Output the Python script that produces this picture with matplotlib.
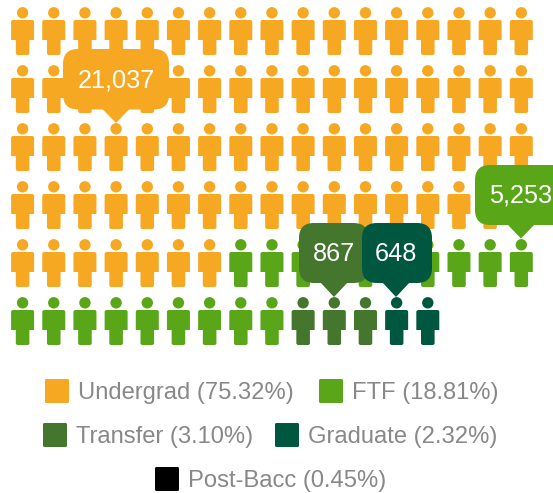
#!/usr/bin/env python3

import matplotlib
matplotlib.use('Agg')
import matplotlib.pyplot as plt
from matplotlib.patches import Circle, PathPatch, FancyBboxPatch
from matplotlib.path import Path

plt.rcParams['font.family'] = ['Liberation Sans', 'DejaVu Sans']

CATEGORIES = ['Undergrad', 'FTF', 'Transfer', 'Graduate', 'Post-Bacc']
PERCENTS = ['75.32', '18.81', '3.10', '2.32', '0.45']
ICON_COUNTS = [75, 19, 3, 2, 0]
COLORS = ['#F7A823', '#59A618', '#44762E', '#00573F', '#000000']
LABELS = ['21,037', '5,253', '867', '648']

N_COLS = 17
COL_START, COL_STEP = 22.6, 31.17
ROW_START, ROW_STEP = 12.8, 58.0

# (left, right, top, bottom, tip x, tip y) for the callouts
BUBBLES = [
    (63, 169, 49, 109.5, 116, 123),
    (475, 590, 165, 225, 521, 238.5),
    (299, 368.5, 223, 283, 334, 297),
    (362, 432, 223, 283, 396, 297),
]

# (square x, square y, text x) per legend entry
LEGEND_POS = [(45, 379, 78), (319, 379, 352), (43, 423, 76), (275, 423, 308), (155, 467, 188)]


def person_path(cx, cy):
    # cy is the centre of the head, the body hangs below it
    top = cy + 7.2
    r = 2.0
    verts = [
        (cx - 9.5, top), (cx + 9.5, top),
        (cx + 11.5, top), (cx + 11.5, top + r),
        (cx + 11.5, top + 20), (cx + 6.8, top + 20),
        (cx + 6.8, top + 33), (cx + 6.8, top + 35), (cx + 4.8, top + 35),
        (cx - 4.8, top + 35),
        (cx - 6.8, top + 35), (cx - 6.8, top + 33),
        (cx - 6.8, top + 20), (cx - 11.5, top + 20),
        (cx - 11.5, top + r), (cx - 11.5, top), (cx - 9.5, top),
        (cx - 9.5, top),
    ]
    L, C = Path.LINETO, Path.CURVE3
    codes = [Path.MOVETO, L, C, C, L, L, L, C, C, L, C, C, L, L, L, C, C, Path.CLOSEPOLY]
    return Path(verts, codes)


def draw_person(ax, col, row, color):
    cx = COL_START + col * COL_STEP
    cy = ROW_START + row * ROW_STEP
    ax.add_patch(Circle((cx, cy), 5.7, fc=color, ec='none'))
    ax.add_patch(PathPatch(person_path(cx, cy), fc=color, ec='none'))


def draw_bubble(ax, box, color, label, z):
    left, right, top, bottom, tip_x, tip_y = box
    ax.add_patch(FancyBboxPatch((left + 15, top + 15), right - left - 30, bottom - top - 30,
                                boxstyle='round,pad=15,rounding_size=15', fc=color, ec='none', zorder=z))
    ax.add_patch(plt.Polygon([(tip_x - 14, bottom - 1), (tip_x + 14, bottom - 1), (tip_x, tip_y)],
                             fc=color, ec='none', zorder=z))
    ax.text(tip_x, (top + bottom) / 2 + 1, label, color='white', fontsize=18.2,
            ha='center', va='center', zorder=z + 0.05)


def main():
    fig = plt.figure(figsize=(5.53, 4.93), dpi=100)
    ax = fig.add_axes([0, 0, 1, 1])
    ax.set_xlim(0, 553)
    ax.set_ylim(493, 0)
    ax.axis('off')

    idx = 0
    for count, color in zip(ICON_COUNTS, COLORS):
        for _ in range(count):
            draw_person(ax, idx % N_COLS, idx // N_COLS, color)
            idx += 1

    for i, label in enumerate(LABELS):
        draw_bubble(ax, BUBBLES[i], COLORS[i], label, 3 + i * 0.1)

    for i, name in enumerate(CATEGORIES):
        sx, sy, tx = LEGEND_POS[i]
        ax.add_patch(FancyBboxPatch((sx + 1, sy + 1), 22, 22, boxstyle='round,pad=1,rounding_size=1.5',
                                    fc=COLORS[i], ec='none'))
        ax.text(tx, sy + 14, '%s (%s%%)' % (name, PERCENTS[i]), color='#888888', fontsize=17.1,
                ha='left', va='center')

    fig.savefig('out.png', dpi=100)


if __name__ == '__main__':
    main()
